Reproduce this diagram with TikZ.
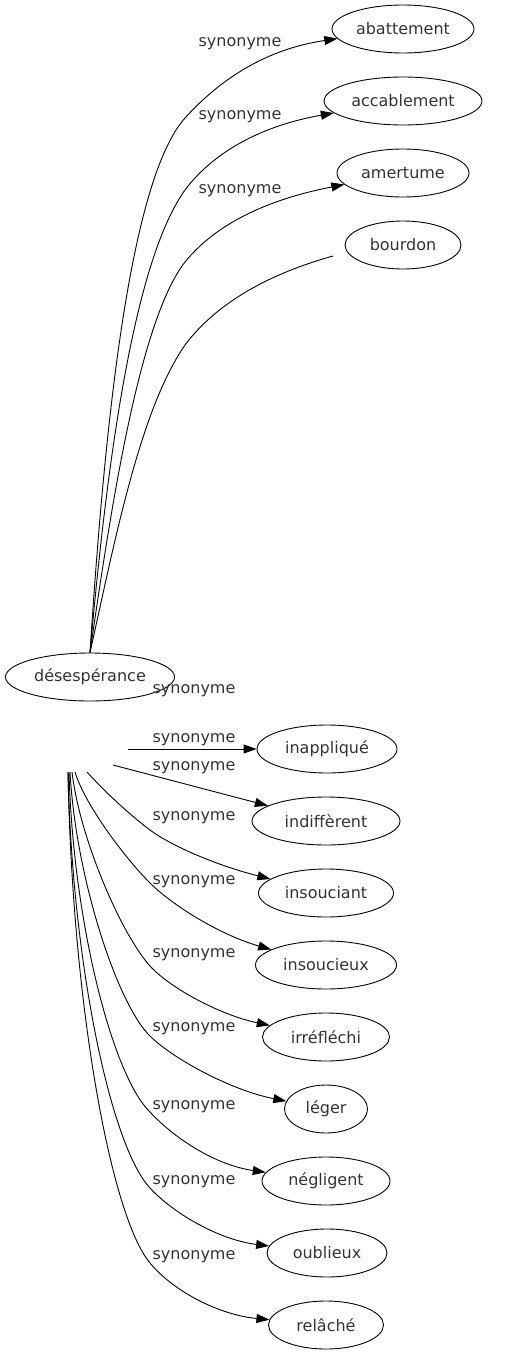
\documentclass[tikz,border=0pt]{standalone}
\usepackage{fontspec}
\setmainfont{DejaVu Sans}
\usetikzlibrary{shapes.geometric,arrows.meta}

\begin{document}
\begin{tikzpicture}[x=1pt,y=-1pt,
    word/.style={draw, ellipse, line width=0.9pt, inner sep=0pt, minimum height=48pt, text=black!80, font=\fontsize{16}{19}\selectfont},
    lbl/.style={inner sep=0pt, text=black!80, font=\fontsize{16}{19}\selectfont},
    syn/.style={line width=0.9pt, -{Triangle[length=13pt,width=9pt]}}]
    \useasboundingbox (0,0) rectangle (513,1355);

    % Central word
    \node[word, minimum width=169pt] (deses) at (90,677) {désespérance};

    % Upper words
    \node[word, minimum width=142pt] (abattement) at (403,29) {abattement};
    \node[word, minimum width=158pt] (accablement) at (403,101) {accablement};
    \node[word, minimum width=132pt] (amertume) at (403,173) {amertume};
    \node[word, minimum width=116pt] (bourdon) at (403,245) {bourdon};

    % Lower words
    \node[word, minimum width=140pt] (inappl) at (327,749) {inappliqué};
    \node[word, minimum width=148pt] (indiff) at (326,821) {indiffèrent};
    \node[word, minimum width=135pt] (insouc) at (326,893) {insouciant};
    \node[word, minimum width=141pt] (insoucx) at (326,965) {insoucieux};
    \node[word, minimum width=127pt] (irref) at (326,1037) {irréfléchi};
    \node[word, minimum width=83pt] (leger) at (326,1109) {léger};
    \node[word, minimum width=128pt] (neglig) at (326,1181) {négligent};
    \node[word, minimum width=120pt] (oublx) at (327,1253) {oublieux};
    \node[word, minimum width=115pt] (relache) at (326,1325) {relâché};

    % Loose ends
    \coordinate (bourdonend) at (333,256);
    \coordinate (fanA) at (128,749);
    \coordinate (fanB) at (113,765);
    \coordinate (fanC) at (87,772);
    \coordinate (fanD) at (75,772);
    \coordinate (fanE) at (72,772);
    \coordinate (fanF) at (70,772);
    \coordinate (fanG) at (69,772);
    \coordinate (fanH) at (68,772);
    \coordinate (fanI) at (68,772);

    % Upper edges
    \draw[syn] (deses.north) .. controls (105,420) and (130,180) .. (185,118) .. controls (215,85) and (260,50) .. (abattement);
    \draw[syn] (deses.north) .. controls (108,450) and (135,260) .. (185,190) .. controls (215,150) and (265,125) .. (accablement);
    \draw[syn] (deses.north) .. controls (112,500) and (140,320) .. (185,262) .. controls (215,225) and (265,200) .. (amertume);
    \draw[line width=0.9pt] (deses.north) .. controls (115,540) and (140,410) .. (185,345) .. controls (215,305) and (265,275) .. (bourdonend);

    % Lower edges
    \draw[syn] (fanA) -- (inappl);
    \draw[syn] (fanB) -- (indiff);
    \draw[syn] (fanC) .. controls (105,792) and (130,815) .. (150,830) .. controls (170,845) and (215,865) .. (insouc);
    \draw[syn] (fanD) .. controls (85,805) and (125,858) .. (150,883) .. controls (172,905) and (220,935) .. (insoucx);
    \draw[syn] (fanE) .. controls (80,840) and (122,935) .. (150,966) .. controls (170,988) and (220,1015) .. (irref);
    \draw[syn] (fanF) .. controls (76,880) and (118,1005) .. (150,1036) .. controls (172,1058) and (230,1090) .. (leger);
    \draw[syn] (fanG) .. controls (73,920) and (112,1075) .. (150,1112) .. controls (174,1138) and (215,1165) .. (neglig);
    \draw[syn] (fanH) .. controls (72,960) and (110,1145) .. (150,1188) .. controls (174,1214) and (220,1240) .. (oublx);
    \draw[syn] (fanI) .. controls (72,1000) and (110,1215) .. (150,1263) .. controls (174,1292) and (220,1315) .. (relache);

    % Labels
    \node[lbl] (s1) at (240,44) {synonyme};
    \node[lbl] (s2) at (240,117) {synonyme};
    \node[lbl] (s3) at (240,191) {synonyme};
    \node[lbl] (s4) at (194,691) {synonyme};
    \node[lbl] (s5) at (194,740) {synonyme};
    \node[lbl] (s6) at (194,768) {synonyme};
    \node[lbl] (s7) at (194,818) {synonyme};
    \node[lbl] (s8) at (194,882) {synonyme};
    \node[lbl] (s9) at (194,955) {synonyme};
    \node[lbl] (s10) at (194,1029) {synonyme};
    \node[lbl] (s11) at (194,1107) {synonyme};
    \node[lbl] (s12) at (194,1182) {synonyme};
    \node[lbl] (s13) at (194,1257) {synonyme};
\end{tikzpicture}
\end{document}
